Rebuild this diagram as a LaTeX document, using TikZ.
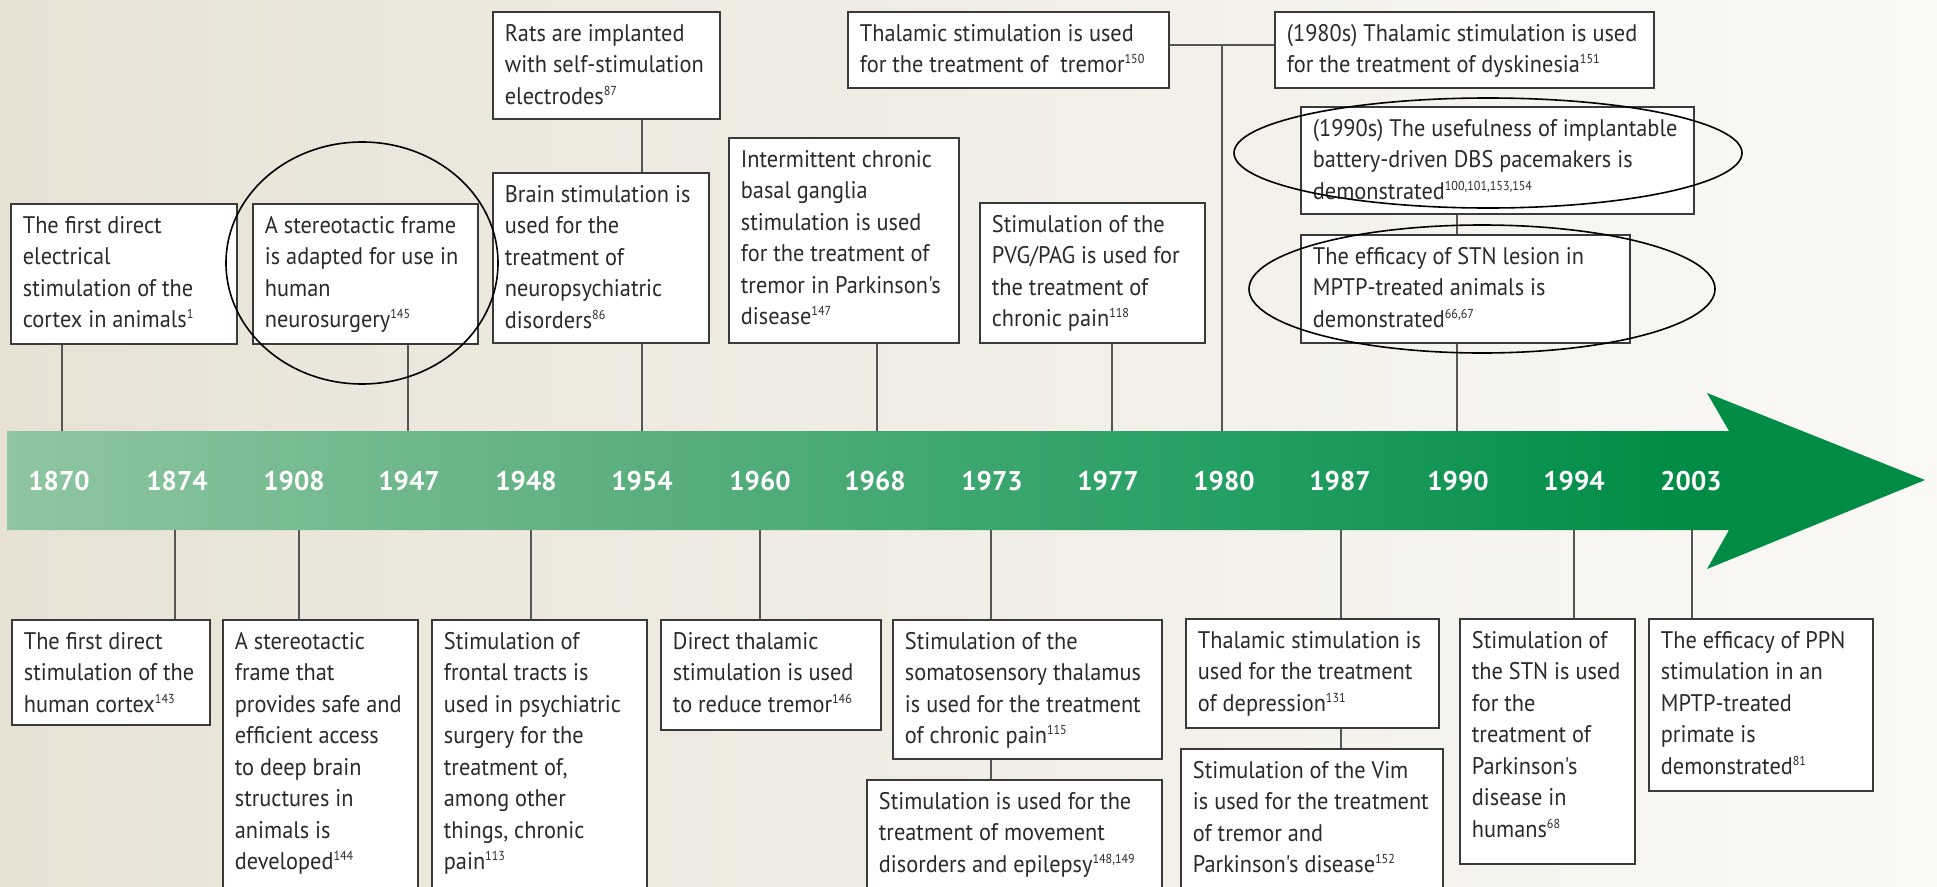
\documentclass[tikz,border=0pt]{standalone}
\usepackage{fontspec}
\newfontfamily\boxfont[FakeStretch=0.93]{PT Sans}
\newfontfamily\yrfont{PT Sans}
\definecolor{bgL}{HTML}{E8E2D5}
\definecolor{bgR}{HTML}{FAF9F6}
\definecolor{barA}{HTML}{8FC6A2}
\definecolor{barB}{HTML}{5BAF7E}
\definecolor{barC}{HTML}{26A064}
\definecolor{barD}{HTML}{008C45}
\definecolor{boxline}{HTML}{3A3A3A}
\definecolor{txt}{HTML}{2A2A2A}
\definecolor{connc}{HTML}{555555}
\pgfdeclarehorizontalshading{barshade}{100bp}{color(0bp)=(barA); color(25bp)=(barA); color(41.5bp)=(barB); color(56.5bp)=(barC); color(69bp)=(barD); color(100bp)=(barD)}
\newcommand\evt[3]{\parbox[c][#2pt][t]{\dimexpr#1pt-24pt\relax}{\raggedright\rule{0pt}{29.5pt}#3}}
\newcommand\rf[1]{\textsuperscript{\fontsize{13}{13}\selectfont #1}}
\begin{document}
\begin{tikzpicture}[x=1pt,y=-1pt,
  evbox/.style={draw=boxline, line width=1.8pt, fill=white, inner xsep=12pt, inner ysep=0pt, anchor=north west, text=txt, font=\boxfont\fontsize{24}{31.5}\selectfont},
  conn/.style={draw=connc, line width=2pt},
  yr/.style={text=white, font=\yrfont\bfseries\fontsize{27}{27}\selectfont, inner sep=0pt},
  ring/.style={draw=black, line width=1.6pt}]
\useasboundingbox (0,0) rectangle (1937,886);
\shade[left color=bgL, right color=bgR] (0,0) rectangle (1937,886);
\shade[shading=barshade] (7,431) -- (1729,431) -- (1707,393) -- (1925,480) -- (1707,569) -- (1729,530) -- (7,530) -- cycle;
\foreach \yy/\xx in {1870/59,1874/177,1908/294,1947/409,1948/526,1954/642,1960/760,1968/875,1973/992,1977/1108,1980/1224,1987/1340,1990/1458,1994/1574,2003/1691}
  \node[yr] (y\yy) at (\xx,481) {\yy};
\coordinate (top1870) at (62,431);
\coordinate (top1947) at (408,431);
\coordinate (top1954) at (642,431);
\coordinate (top1968) at (877,431);
\coordinate (top1977) at (1112,431);
\coordinate (top1980) at (1222,431);
\coordinate (top1990) at (1457,431);
\coordinate (bot1874) at (175,530);
\coordinate (bot1908) at (299,530);
\coordinate (bot1948) at (531,530);
\coordinate (bot1960) at (760,530);
\coordinate (bot1973) at (991,530);
\coordinate (bot1987) at (1341,530);
\coordinate (bot1994) at (1574,530);
\coordinate (bot2003) at (1692,530);
\coordinate (j80) at (1222,45);
% top boxes
\node[evbox] (b1) at (10,203) {\evt{226}{140}{The first direct\\electrical\\stimulation of the\\cortex in animals\rf{1}}};
\node[evbox] (b2) at (252,203) {\evt{225}{140}{A stereotactic frame\\is adapted for use in\\human\\neurosurgery\rf{145}}};
\node[evbox] (b3) at (492,11) {\evt{227}{107}{Rats are implanted\\with self-stimulation\\electrodes\rf{87}}};
\node[evbox] (b4) at (492,172) {\evt{216}{170}{Brain stimulation is\\used for the\\treatment of\\neuropsychiatric\\disorders\rf{86}}};
\node[evbox] (b5) at (728,137) {\evt{230}{205}{Intermittent chronic\\basal ganglia\\stimulation is used\\for the treatment of\\tremor in Parkinson's\\disease\rf{147}}};
\node[evbox] (b6) at (847,11) {\evt{321}{76}{Thalamic stimulation is used\\for the treatment of\ \ tremor\rf{150}}};
\node[evbox] (b7) at (979,202) {\evt{225}{140}{Stimulation of the\\PVG/PAG is used for\\the treatment of\\chronic pain\rf{118}}};
\node[evbox] (b8) at (1274,11) {\evt{379}{76}{(1980s) Thalamic stimulation is used\\for the treatment of dyskinesia\rf{151}}};
\node[evbox] (b9) at (1300,106) {\evt{393}{107}{(1990s) The usefulness of implantable\\battery-driven DBS pacemakers is\\demonstrated\rf{100,101,153,154}}};
\node[evbox] (b10) at (1300,234) {\evt{329}{108}{The efficacy of STN lesion in\\MPTP-treated animals is\\demonstrated\rf{66,67}}};
% bottom boxes
\node[evbox] (c1) at (11,619) {\evt{198}{105}{The first direct\\stimulation of the\\human cortex\rf{143}}};
\node[evbox] (c2) at (222,619) {\evt{195}{280}{A stereotactic\\frame that\\provides safe and\\efficient access\\to deep brain\\structures in\\animals is\\developed\rf{144}}};
\node[evbox] (c3) at (431,619) {\evt{215}{280}{Stimulation of\\frontal tracts is\\used in psychiatric\\surgery for the\\treatment of,\\among other\\things, chronic\\pain\rf{113}}};
\node[evbox] (c4) at (660,619) {\evt{220}{110}{Direct thalamic\\stimulation is used\\to reduce tremor\rf{146}}};
\node[evbox] (c5) at (892,619) {\evt{269}{139}{Stimulation of the\\somatosensory thalamus\\is used for the treatment\\of chronic pain\rf{115}}};
\node[evbox] (c6) at (866,779) {\evt{295}{120}{Stimulation is used for the\\treatment of movement\\disorders and epilepsy\rf{148,149}}};
\node[evbox] (c7) at (1185,618) {\evt{253}{109}{Thalamic stimulation is\\used for the treatment\\of depression\rf{131}}};
\node[evbox] (c8) at (1180,748) {\evt{262}{150}{Stimulation of the Vim\\is used for the treatment\\of tremor and\\Parkinson's disease\rf{152}}};
\node[evbox] (c9) at (1459,618) {\evt{175}{245}{Stimulation of\\the STN is used\\for the\\treatment of\\Parkinson's\\disease in\\humans\rf{68}}};
\node[evbox] (c10) at (1648,618) {\evt{224}{172}{The efficacy of PPN\\stimulation in an\\MPTP-treated\\primate is\\demonstrated\rf{81}}};
% connectors top
\draw[conn] (b1.south -| top1870) -- (top1870);
\draw[conn] (b2.south -| top1947) -- (top1947);
\draw[conn] (b3.south -| top1954) -- (b4.north -| top1954);
\draw[conn] (b4.south -| top1954) -- (top1954);
\draw[conn] (b5.south -| top1968) -- (top1968);
\draw[conn] (b7.south -| top1977) -- (top1977);
\draw[conn] (b6.east |- j80) -- (b8.west |- j80);
\draw[conn] (j80) -- (top1980);
\draw[conn] (b9.south -| top1990) -- (b10.north -| top1990);
\draw[conn] (b10.south -| top1990) -- (top1990);
% connectors bottom
\draw[conn] (bot1874) -- (c1.north -| bot1874);
\draw[conn] (bot1908) -- (c2.north -| bot1908);
\draw[conn] (bot1948) -- (c3.north -| bot1948);
\draw[conn] (bot1960) -- (c4.north -| bot1960);
\draw[conn] (bot1973) -- (c5.north -| bot1973);
\draw[conn] (c5.south -| bot1973) -- (c6.north -| bot1973);
\draw[conn] (bot1987) -- (c7.north -| bot1987);
\draw[conn] (c7.south -| bot1987) -- (c8.north -| bot1987);
\draw[conn] (bot1994) -- (c9.north -| bot1994);
\draw[conn] (bot2003) -- (c10.north -| bot2003);
% hand-drawn rings
\draw[ring] (362,263) ellipse [x radius=136, y radius=121];
\draw[ring] (1488,153) ellipse [x radius=254, y radius=55];
\draw[ring] (1482,289) ellipse [x radius=233, y radius=64];
\end{tikzpicture}
\end{document}
